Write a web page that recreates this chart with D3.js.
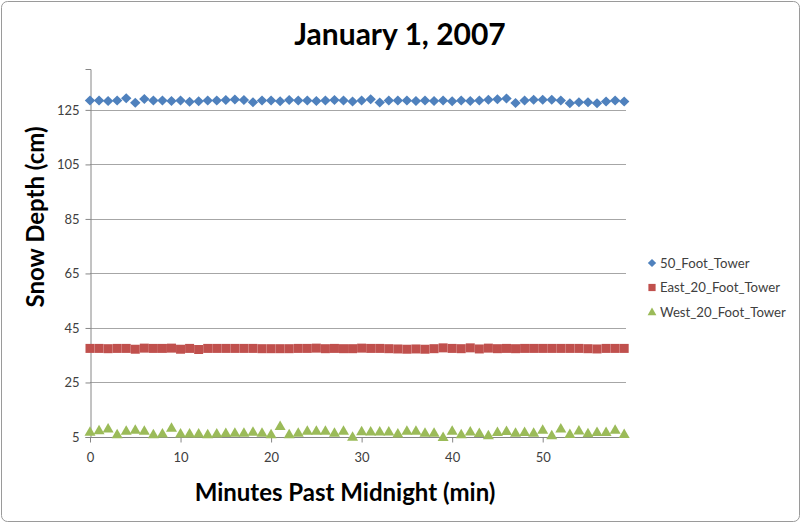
<!DOCTYPE html>
<html>
<head>
<meta charset="utf-8">
<script src="https://cdn.jsdelivr.net/npm/d3@7"></script>
<style>
  body { margin: 0; background: #fff; }
  svg { display: block; }
</style>
</head>
<body>
<div id="chart"></div>
<script>
// minutes past midnight
const minutes = [0,1,2,3,4,5,6,7,8,9,10,11,12,13,14,15,16,17,18,19,
  20,21,22,23,24,25,26,27,28,29,30,31,32,33,34,35,36,37,38,39,
  40,41,42,43,44,45,46,47,48,49,50,51,52,53,54,55,56,57,58,59];

const tower50 = [128.4,128.4,128.3,128.4,129.3,127.6,129.0,128.4,128.4,128.3,
  128.4,128.0,128.2,128.4,128.4,128.6,128.8,128.6,127.8,128.4,
  128.4,128.2,128.6,128.4,128.4,128.3,128.4,128.6,128.4,128.1,
  128.4,128.9,127.7,128.4,128.4,128.4,128.3,128.4,128.3,128.4,
  128.2,128.4,128.3,128.4,128.7,128.9,129.2,127.5,128.4,128.7,
  128.7,128.7,128.4,127.4,127.8,127.8,127.4,128.1,128.4,128.1];

const east20 = [37.5,37.5,37.4,37.5,37.5,37.2,37.6,37.5,37.5,37.6,
  37.2,37.5,37.1,37.5,37.5,37.5,37.5,37.5,37.5,37.4,
  37.4,37.4,37.4,37.5,37.5,37.6,37.4,37.5,37.4,37.4,
  37.6,37.5,37.5,37.4,37.3,37.2,37.3,37.2,37.4,37.7,
  37.5,37.4,37.7,37.3,37.6,37.4,37.5,37.4,37.5,37.5,
  37.5,37.5,37.5,37.5,37.5,37.4,37.3,37.5,37.5,37.5];

const west20 = [6.9,7.5,8.1,6.0,7.3,7.7,7.3,6.0,6.3,8.4,
  6.3,6.3,6.3,6.0,6.3,6.5,6.6,6.6,6.9,6.6,
  6.0,9.0,6.0,6.6,7.3,7.3,7.3,6.6,7.3,5.1,
  7.1,7.0,7.0,7.0,6.3,7.3,7.3,6.6,6.6,5.0,
  7.3,6.0,7.0,6.5,5.6,6.8,7.2,6.6,6.8,6.6,
  7.7,5.6,8.1,6.1,7.4,6.4,6.8,6.8,7.7,6.1];

const seriesNames = ["50_Foot_Tower", "East_20_Foot_Tower", "West_20_Foot_Tower"];
const seriesColors = ["#4F81BD", "#C0504D", "#9BBB59"];
const yTicks = [5, 25, 45, 65, 85, 105, 125];
const xTicks = [0, 10, 20, 30, 40, 50];

const width = 801, height = 523;
const font = "Lato, 'Open Sans', sans-serif";
const margin = { top: 69, right: 175, bottom: 86, left: 90 };

const svg = d3.select("#chart").append("svg")
  .attr("width", width)
  .attr("height", height);

// outer chart border
svg.append("rect")
  .attr("x", 1.5).attr("y", 1.5)
  .attr("width", width - 3).attr("height", height - 3)
  .attr("rx", 6)
  .attr("fill", "#fff")
  .attr("stroke", "#9a9a9a");

const x = d3.scaleLinear().domain([0, 59.2]).range([margin.left, width - margin.right]);
const y = d3.scaleLinear().domain([5, 140]).range([height - margin.bottom, margin.top]);

// gridlines
svg.append("g")
  .selectAll("line")
  .data(yTicks.slice(1))
  .join("line")
  .attr("x1", x(0)).attr("x2", x.range()[1])
  .attr("y1", d => Math.round(y(d)) + 0.5)
  .attr("y2", d => Math.round(y(d)) + 0.5)
  .attr("stroke", "#a6a6a6");

// y axis
const yAxis = svg.append("g")
  .attr("transform", `translate(${margin.left + 0.5},0)`)
  .call(d3.axisLeft(y).tickValues(yTicks).tickSize(5).tickPadding(6));
// x axis
const xAxis = svg.append("g")
  .attr("transform", `translate(0,${Math.round(y(5)) + 0.5})`)
  .call(d3.axisBottom(x).tickValues(xTicks).tickSize(5).tickPadding(10));

[yAxis, xAxis].forEach(g => {
  g.select(".domain").attr("stroke", "#868686");
  g.selectAll(".tick line").attr("stroke", "#868686");
  g.selectAll(".tick text")
    .attr("fill", "#404040")
    .style("font-family", font)
    .style("font-size", "13px");
});
xAxis.select(".domain").attr("d", `M${x(0)},0H${x.range()[1]}`);

// marker shapes
const shapes = [
  g => g.append("path").attr("d", "M0,-5L5.2,0L0,5L-5.2,0Z"),
  g => g.append("rect").attr("x", -4.5).attr("y", -4.5).attr("width", 9).attr("height", 9),
  g => g.append("path").attr("d", "M0,-5.5L5.5,4L-5.5,4Z")
];

const seriesData = [tower50, east20, west20];
seriesData.forEach((vals, si) => {
  const g = svg.append("g").attr("fill", seriesColors[si]);
  minutes.forEach((m, i) => {
    const mk = g.append("g").attr("transform", `translate(${x(m)},${y(vals[i])})`);
    shapes[si](mk);
  });
});

// legend
const legend = svg.append("g").attr("transform", "translate(652,263)");
seriesNames.forEach((name, i) => {
  const row = legend.append("g")
    .attr("transform", `translate(0,${i * 24.5})`)
    .attr("fill", seriesColors[i]);
  const mk = row.append("g").attr("transform", "scale(0.8)");
  shapes[i](mk);
  row.append("text")
    .attr("x", 8).attr("dy", "0.35em")
    .attr("fill", "#404040")
    .style("font-family", font)
    .style("font-size", "13.2px")
    .text(name);
});

// titles
svg.append("text")
  .attr("x", 400).attr("y", 45)
  .attr("text-anchor", "middle")
  .style("font-family", font)
  .style("font-weight", "bold")
  .style("font-size", "30px")
  .text("January 1, 2007");

svg.append("text")
  .attr("x", 345).attr("y", 501)
  .attr("text-anchor", "middle")
  .style("font-family", font)
  .style("font-weight", "bold")
  .style("font-size", "24px")
  .text("Minutes Past Midnight (min)");

svg.append("text")
  .attr("transform", "translate(44,217) rotate(-90)")
  .attr("text-anchor", "middle")
  .style("font-family", font)
  .style("font-weight", "bold")
  .style("font-size", "24px")
  .text("Snow Depth (cm)");
</script>
</body>
</html>
